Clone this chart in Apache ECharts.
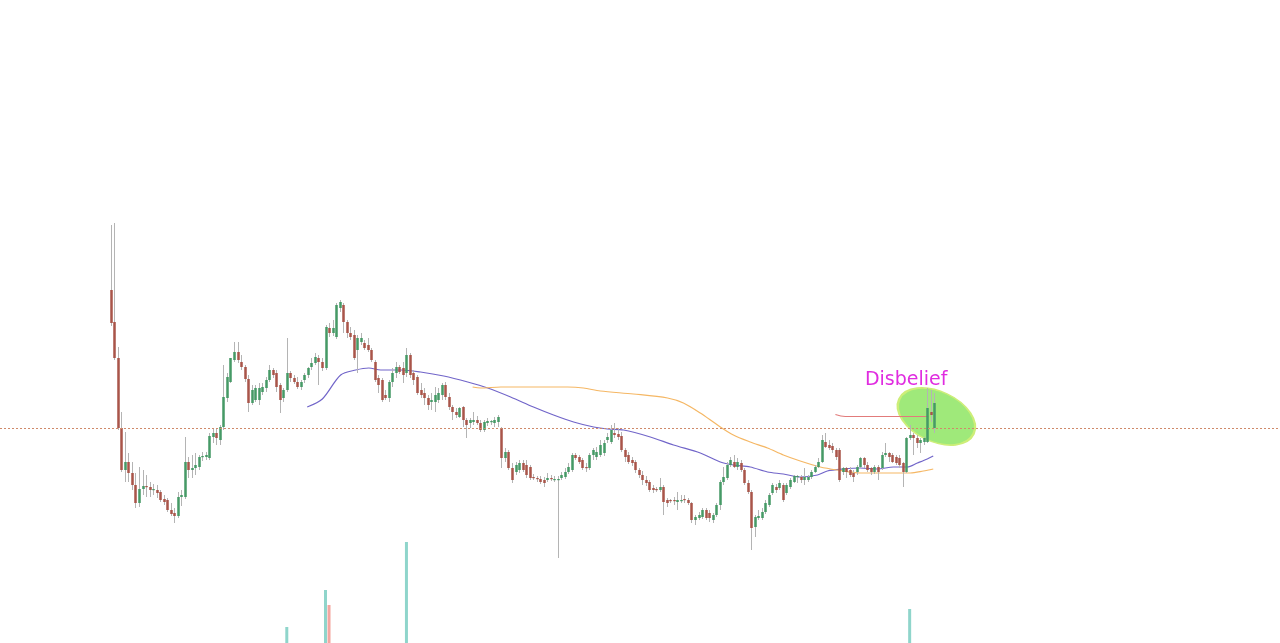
<!DOCTYPE html>
<html><head><meta charset="utf-8">
<script src="https://cdn.jsdelivr.net/npm/echarts@6/dist/echarts.min.js"></script>
<style>html,body{margin:0;padding:0;background:#fff}#c{width:1280px;height:643px}</style>
</head><body><div id="c"></div>
<script>
const open = [710,678,642,572,530,538,527,515,497,511,514,513,510,510,508,501,500,490,487,484,503,503,538,530,532,533,543,543,542,563,567,560,573,602,618,640,648,638,633,621,597,600,600,608,612,620,630,627,615,602,610,627,622,618,613,620,625,633,637,642,638,632,672,667,663,692,695,678,667,665,650,658,657,655,650,638,622,620,605,602,618,627,633,632,627,645,627,623,610,607,602,598,598,600,605,615,603,593,588,583,593,580,577,578,580,577,570,577,578,577,578,572,542,548,532,528,530,537,535,533,523,522,521,520,520,522,520,520,522,523,528,530,545,543,540,533,532,545,543,545,547,560,558,567,566,564,550,545,540,538,530,525,520,518,512,511,510,513,500,500,500,498,499,501,500,497,480,482,483,490,487,480,485,495,518,522,535,538,533,537,530,517,508,473,482,482,488,495,507,513,512,515,507,513,518,523,523,520,520,523,528,533,538,558,555,554,550,550,528,532,530,527,528,533,542,535,532,528,533,532,545,547,545,543,542,537,528,562,565,562,557,558,558,588,572];
const close = [677,642,572,530,538,527,515,497,511,514,513,510,511,507,500,498,490,486,484,503,505,538,530,532,535,543,544,545,564,567,562,573,603,623,642,648,640,633,621,597,610,612,612,613,620,630,625,613,600,610,627,622,618,613,618,625,632,637,643,638,632,673,667,672,695,698,678,667,663,642,662,662,652,650,640,620,615,600,602,618,627,633,628,625,645,625,620,607,605,602,595,600,605,607,615,603,593,588,585,592,580,575,580,580,577,570,578,579,579,580,583,542,548,532,520,535,537,530,525,522,522,521,518,517,522,521,521,521,525,528,533,545,542,538,532,532,545,550,548,555,557,563,570,565,563,550,543,538,537,530,525,520,517,510,510,510,513,498,497,499,499,500,500,500,497,480,483,485,490,482,482,485,495,518,523,535,540,533,538,530,517,508,472,483,484,488,497,505,515,510,517,500,515,520,524,524,520,523,523,528,533,538,560,553,552,550,543,520,532,528,525,523,533,542,535,530,528,533,528,545,547,543,538,537,535,528,562,565,562,557,560,562,592,585,597];
const low = [674,640,570,528,518,518,510,492,493,505,503,503,505,502,498,495,488,484,477,482,494,501,522,522,525,530,539,540,540,557,555,555,570,598,617,638,637,630,618,588,595,598,595,605,608,618,622,608,587,598,608,618,616,611,610,617,622,630,635,615,629,630,663,664,661,688,667,662,660,640,627,655,650,648,638,618,607,598,600,598,613,622,626,617,623,622,615,605,602,595,590,590,588,597,600,600,590,580,582,582,573,562,572,575,575,568,568,574,575,573,573,532,538,530,517,525,527,528,522,520,520,518,516,513,518,519,518,442,520,521,526,528,540,536,530,528,530,540,540,543,544,557,556,562,560,548,538,536,534,527,522,515,514,508,507,508,508,485,493,497,495,490,497,497,495,477,475,480,481,480,478,477,483,490,515,520,533,532,530,528,515,506,450,463,480,480,486,493,505,507,510,498,505,511,517,517,517,515,518,521,527,532,537,552,550,547,540,518,525,522,523,518,525,532,532,528,525,526,520,530,543,538,537,535,532,513,527,560,545,552,547,555,557,578,567];
const high = [775,777,653,588,568,547,538,527,533,530,525,518,516,515,510,505,502,497,492,508,510,563,543,545,547,545,548,548,567,572,572,575,635,627,642,658,658,645,635,625,615,615,617,617,623,635,632,630,617,612,662,629,625,623,620,627,633,642,647,645,642,675,677,680,697,700,697,680,673,670,665,667,660,662,652,640,625,622,610,620,632,638,635,638,652,647,630,625,617,612,605,607,613,612,617,618,607,595,592,593,594,582,582,588,584,580,580,582,580,583,585,573,552,550,537,538,540,540,540,535,526,524,524,523,527,525,524,524,528,532,537,547,547,545,542,537,547,552,553,560,560,567,575,577,572,568,552,548,543,540,532,529,524,520,515,513,522,515,502,501,503,508,505,505,502,498,485,488,492,492,490,487,497,520,533,538,543,545,542,540,532,520,510,485,490,492,500,507,517,516,520,517,517,522,525,525,525,532,525,530,535,542,565,567,560,557,552,552,533,533,533,530,535,543,543,538,533,535,535,548,557,548,547,545,545,538,563,575,567,565,562,563,612,610,607];

// volume (only the visible bars)
const volIdx = [50, 61, 62, 84, 227];
const volVal = [160, 530, 380, 1010, 340];

// moving averages: [candle index, value]
const maPurple = [[55.8,593],[60.1,601],[65.3,625],[69.6,630],[73.3,632],[76.7,630],[82.4,630],[88.0,628],[94.6,624],[101.4,618],[107.1,612],[113.6,603],[120.1,593],[125.8,585],[131.5,578],[137.2,573],[141.1,571],[145.7,570],[153.3,563],[159.9,555],[167.5,547],[173.2,538],[176.9,535],[181.7,533],[186.6,528],[191.1,526],[195.9,523],[200.8,525],[203.6,529],[208.2,531],[213.0,532],[217.8,531],[222.4,533],[226.3,533],[229.2,537],[232.0,541],[233.7,544]];
const maOrange = [[102.8,613],[105.1,612],[110.8,613],[120.1,613],[129.8,613],[134.3,612],[139.1,609],[148.5,606],[158.2,602],[162.7,597],[167.5,587],[172.4,575],[176.9,565],[181.7,558],[186.6,552],[191.1,545],[195.9,539],[201.6,533],[206.4,530],[213.0,527],[217.8,527],[222.4,527],[227.2,527],[230.9,529],[233.7,531]];
const redLine = [[205.9,585.5],[208.7,583.5],[232.3,583.5]];
const priceLine = 571.5;
const ellipseAt = [234.6, 583.5];
const labelAt = [226.0, 620];
const labelText = 'Disbelief';

const candles = open.map((o, i) => [i, o, close[i], low[i], high[i]]);
const GREEN = '#469a66', RED = '#a9554a', WICK = '#b4b4b4';
const vols = volIdx.map((idx, k) => ({
  value: [idx, volVal[k]],
  itemStyle: { color: close[idx] >= open[idx] ? '#8fd5cb' : '#f3a7a1' }
}));

const chart = echarts.init(document.getElementById('c'), null, { renderer: 'canvas' });
const xAx = (gi) => ({ type: 'value', gridIndex: gi, min: -31.5, max: 332.24, show: false, splitLine: { show: false } });
chart.setOption({
  animation: false,
  backgroundColor: '#ffffff',
  grid: [
    { left: -1, right: 0, top: 0, bottom: 0 },
    { left: -1, right: 0, top: 443, height: 200 }
  ],
  xAxis: [xAx(0), xAx(1)],
  yAxis: [
    { type: 'value', gridIndex: 0, min: 357, max: 1000, show: false, splitLine: { show: false } },
    { type: 'value', gridIndex: 1, min: 0, max: 2000, show: false, splitLine: { show: false } }
  ],
  series: [
    {
      type: 'scatter', xAxisIndex: 0, yAxisIndex: 0, z: 1,
      symbol: 'circle', symbolSize: [82, 50], symbolRotate: -25,
      itemStyle: { color: '#9fe97a', borderColor: '#cdee78', borderWidth: 2, opacity: 1 },
      data: [ellipseAt], silent: true
    },
    {
      type: 'line', xAxisIndex: 0, yAxisIndex: 0, z: 2, data: maPurple, smooth: 0.3,
      symbol: 'none', lineStyle: { color: '#7165c9', width: 1.2 }
    },
    {
      type: 'line', xAxisIndex: 0, yAxisIndex: 0, z: 2, data: maOrange, smooth: 0.3,
      symbol: 'none', lineStyle: { color: '#f5b764', width: 1.2 }
    },
    {
      type: 'line', xAxisIndex: 0, yAxisIndex: 0, z: 2, data: redLine, smooth: 0.4,
      symbol: 'none', lineStyle: { color: '#e27b7b', width: 1.2 }
    },
    {
      type: 'custom', xAxisIndex: 0, yAxisIndex: 0, z: 3,
      dimensions: ['i', 'open', 'close', 'low', 'high'],
      encode: { x: 0, y: [1, 2, 3, 4] },
      data: candles,
      renderItem: function (params, api) {
        const i = api.value(0), o = api.value(1), c = api.value(2), l = api.value(3), h = api.value(4);
        const pO = api.coord([i, o]), pC = api.coord([i, c]), pL = api.coord([i, l]), pH = api.coord([i, h]);
        const w = Math.max(2, api.size([1, 0])[0] * 0.72);
        const x = Math.round(pO[0]);
        const top = Math.min(pO[1], pC[1]);
        const ht = Math.max(1.2, Math.abs(pO[1] - pC[1]));
        const col = c >= o ? GREEN : RED;
        return {
          type: 'group',
          children: [
            { type: 'line', shape: { x1: x + 0.5, y1: pH[1], x2: x + 0.5, y2: pL[1] }, style: { stroke: WICK, lineWidth: 1 } },
            { type: 'rect', shape: { x: x + 0.5 - w / 2, y: top, width: w, height: ht }, style: { fill: col } }
          ]
        };
      },
      markLine: {
        silent: true, symbol: 'none', label: { show: false },
        lineStyle: { color: '#cf8a6a', type: [2, 2], width: 1 },
        data: [{ yAxis: priceLine }]
      }
    },
    {
      type: 'custom', xAxisIndex: 0, yAxisIndex: 0, z: 4,
      data: [labelAt],
      renderItem: function (params, api) {
        const p = api.coord([api.value(0), api.value(1)]);
        return { type: 'text', x: p[0], y: p[1], style: { text: labelText, fill: '#e02ce0', font: '19px "DejaVu Sans"', align: 'center', verticalAlign: 'middle' } };
      }
    },
    {
      type: 'bar', xAxisIndex: 1, yAxisIndex: 1, barWidth: 3, data: vols
    }
  ]
});
</script></body></html>
